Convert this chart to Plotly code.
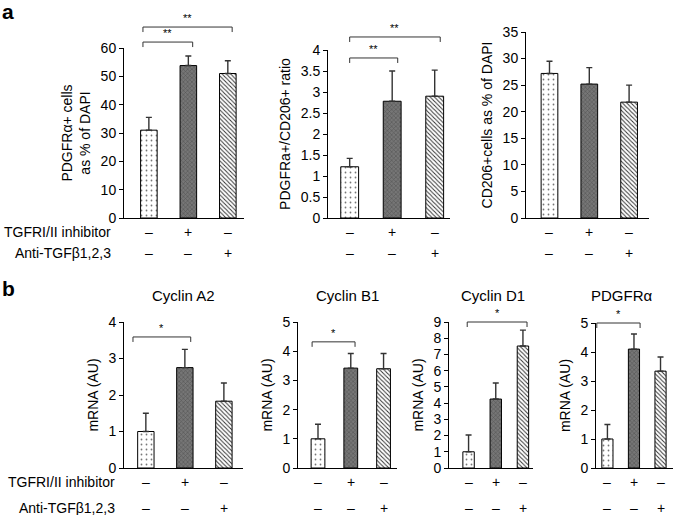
import plotly.graph_objects as go

# ---------------- data ----------------
conditions = ["Control", "TGFRI/II inhibitor", "Anti-TGFβ1,2,3"]
inhibitor_signs = ["–", "+", "–"]
antibody_signs = ["–", "–", "+"]

pdgfra_pct = [31.0, 53.8, 51.0]
pdgfra_pct_err = [4.5, 3.4, 4.5]
ratio_vals = [1.22, 2.78, 2.90]
ratio_err = [0.20, 0.72, 0.62]
cd206_pct = [27.2, 25.2, 21.8]
cd206_pct_err = [2.3, 3.1, 3.2]

cyclin_a2 = [1.0, 2.75, 1.83]
cyclin_a2_err = [0.5, 0.5, 0.5]
cyclin_b1 = [1.0, 3.42, 3.40]
cyclin_b1_err = [0.5, 0.5, 0.52]
cyclin_d1 = [1.0, 4.25, 7.52]
cyclin_d1_err = [1.03, 0.99, 0.98]
pdgfra_mrna = [1.0, 4.10, 3.34]
pdgfra_mrna_err = [0.5, 0.52, 0.49]

# significance brackets: (from, to, level in data units, label)
br_a1 = [(0, 2, 67.4, "**"), (0, 1, 62.1, "**")]
br_a2 = [(0, 2, 4.31, "**"), (0, 1, 3.81, "**")]
br_b1 = [(0, 1, 3.59, "*")]
br_b2 = [(0, 1, 4.32, "*")]
br_b3 = [(0, 2, 9.0, "*")]
br_b4 = [(0, 1, 5.0, "*")]

# ---------------- layout helpers ----------------
W, H = 675, 515
FONT = "Liberation Sans, Arial, Helvetica, sans-serif"

def px_x(v):
    return v / W

def px_y(v):
    return 1 - v / H

panels = [
    dict(vals=pdgfra_pct, err=pdgfra_pct_err, yt="PDGFRα+ cells<br>as % of DAPI", yr=[0, 60], dt=10,
         xp=[124, 244], yp=[48, 218], xr=[-0.63, 2.41], br=br_a1, pad=(-0.15, 0.11), title=None, row="a"),
    dict(vals=ratio_vals, err=ratio_err, yt="PDGFRa+/CD206+ ratio", yr=[0, 4], dt=0.5,
         xp=[328, 450], yp=[50, 218], xr=[-0.51, 2.36], br=br_a2, pad=(0.0, 0.13), title=None, row="a"),
    dict(vals=cd206_pct, err=cd206_pct_err, yt="CD206+cells as % of DAPI", yr=[0, 35], dt=5,
         xp=[526, 649], yp=[32, 218], xr=[-0.59, 2.5], br=[], pad=(0, 0), title=None, row="a"),
    dict(vals=cyclin_a2, err=cyclin_a2_err, yt="mRNA (AU)", yr=[0, 4], dt=1,
         xp=[124, 243], yp=[322, 468], xr=[-0.56, 2.49], br=br_b1, pad=(-0.33, 0.15), title=("Cyclin A2", 0.5), row="b"),
    dict(vals=cyclin_b1, err=cyclin_b1_err, yt="mRNA (AU)", yr=[0, 5], dt=1,
         xp=[298, 397], yp=[322, 468], xr=[-0.61, 2.41], br=br_b2, pad=(-0.18, 0.13), title=("Cyclin B1", 0.5), row="b"),
    dict(vals=cyclin_d1, err=cyclin_d1_err, yt="mRNA (AU)", yr=[0, 9], dt=1,
         xp=[449, 533], yp=[322, 468], xr=[-0.72, 2.37], br=br_b3, pad=(-0.05, 0.15), title=("Cyclin D1", 0.52), row="b"),
    dict(vals=pdgfra_mrna, err=pdgfra_mrna_err, yt="mRNA (AU)", yr=[0, 5], dt=1,
         xp=[596, 673], yp=[323, 468], xr=[-0.43, 2.47], br=br_b4, pad=(-0.4, 0.23), title=("PDGFRα", 0.34), row="b"),
]

pattern = dict(
    shape=[".", "x", "\\"],
    bgcolor=["white", "#767676", "white"],
    fgcolor=["#777777", "#555555", "#333333"],
    size=[5, 3, 3],
    solidity=[0.1, 0.35, 0.33],
    fillmode="replace",
)

fig = go.Figure()
layout = dict(
    template="none",
    width=W, height=H, margin=dict(l=0, r=0, t=0, b=0, pad=0, autoexpand=False),
    paper_bgcolor="white", plot_bgcolor="white", showlegend=False,
    font=dict(family=FONT, size=14, color="black"),
)
shapes, annotations = [], []

for k, p in enumerate(panels, start=1):
    xa = "x" if k == 1 else f"x{k}"
    ya = "y" if k == 1 else f"y{k}"
    xs = list(range(len(conditions)))
    fig.add_trace(go.Bar(
        x=xs, y=p["vals"], width=0.42, xaxis=xa, yaxis=ya,
        hovertext=conditions,
        marker=dict(color="white", line=dict(color="black", width=1), pattern=pattern),
        error_y=dict(type="data", array=p["err"], arrayminus=[0] * len(xs), symmetric=False,
                     color="#333333", thickness=1.4, width=3),
    ))
    xk = "xaxis" if k == 1 else f"xaxis{k}"
    yk = "yaxis" if k == 1 else f"yaxis{k}"
    layout[xk] = dict(domain=[px_x(p["xp"][0]), px_x(p["xp"][1])], anchor=ya, range=p["xr"],
                      showline=True, linecolor="black", linewidth=1, ticks="", showticklabels=False,
                      showgrid=False, zeroline=False, fixedrange=True, automargin=False)
    layout[yk] = dict(domain=[px_y(p["yp"][1]), px_y(p["yp"][0])], anchor=xa, range=p["yr"], dtick=p["dt"],
                      showline=True, linecolor="black", linewidth=1, ticks="outside", ticklen=4,
                      tickcolor="black", tickfont=dict(size=14), showgrid=False, zeroline=False,
                      title=dict(text=p["yt"], font=dict(size=14), standoff=6), fixedrange=True,
                      automargin=False)
    hpx = p["yp"][1] - p["yp"][0]
    span = p["yr"][1] - p["yr"][0]
    leg = 5 / hpx
    for (i, j, lvl, lab) in p["br"]:
        yd = (lvl - p["yr"][0]) / span
        x0 = i + p["pad"][0]
        x1 = j + p["pad"][1]
        shapes.append(dict(type="path", xref=xa, yref=f"{ya} domain",
                           path=f"M {x0},{yd - leg} L {x0},{yd} L {x1},{yd} L {x1},{yd - leg}",
                           line=dict(color="#333333", width=1)))
        annotations.append(dict(x=(x0 + x1) / 2, y=yd, xref=xa, yref=f"{ya} domain", text=lab,
                                showarrow=False, xanchor="center", yanchor="bottom",
                                font=dict(size=11), yshift=1))
    # sign rows
    base = p["yp"][1]
    offs = (14, 35) if p["row"] == "a" else (14, 40)
    for idx in range(len(conditions)):
        annotations.append(dict(x=idx, y=px_y(base + offs[0]), xref=xa, yref="paper",
                                text=inhibitor_signs[idx], showarrow=False,
                                xanchor="center", yanchor="middle", font=dict(size=14)))
        annotations.append(dict(x=idx, y=px_y(base + offs[1]), xref=xa, yref="paper",
                                text=antibody_signs[idx], showarrow=False,
                                xanchor="center", yanchor="middle", font=dict(size=14)))
    if p["title"]:
        annotations.append(dict(x=p["title"][1], y=px_y(296), xref=f"{xa} domain", yref="paper",
                                text=p["title"][0], showarrow=False,
                                xanchor="center", yanchor="middle", font=dict(size=15)))

# row labels
for ybase, offs, xr in [(218, (14, 35), 113), (468, (14, 40), 117)]:
    annotations.append(dict(x=px_x(xr), y=px_y(ybase + offs[0]), xref="paper", yref="paper",
                            text="TGFRI/II inhibitor", showarrow=False, xanchor="right",
                            yanchor="middle", font=dict(size=14)))
    annotations.append(dict(x=px_x(xr), y=px_y(ybase + offs[1]), xref="paper", yref="paper",
                            text="Anti-TGFβ1,2,3", showarrow=False, xanchor="right",
                            yanchor="middle", font=dict(size=14)))

# panel letters
annotations.append(dict(x=0, y=px_y(12), xref="paper", yref="paper", text="<b>a</b>", showarrow=False,
                        xanchor="left", yanchor="middle", font=dict(size=21)))
annotations.append(dict(x=0, y=px_y(288), xref="paper", yref="paper", text="<b>b</b>", showarrow=False,
                        xanchor="left", yanchor="middle", font=dict(size=21)))

layout["shapes"] = shapes
layout["annotations"] = annotations
fig.update_layout(**layout)
fig.write_html(
    "out.html",
    config={"displayModeBar": False, "responsive": False},
    post_script="document.body.style.margin='0';document.body.style.overflow='hidden';",
)
